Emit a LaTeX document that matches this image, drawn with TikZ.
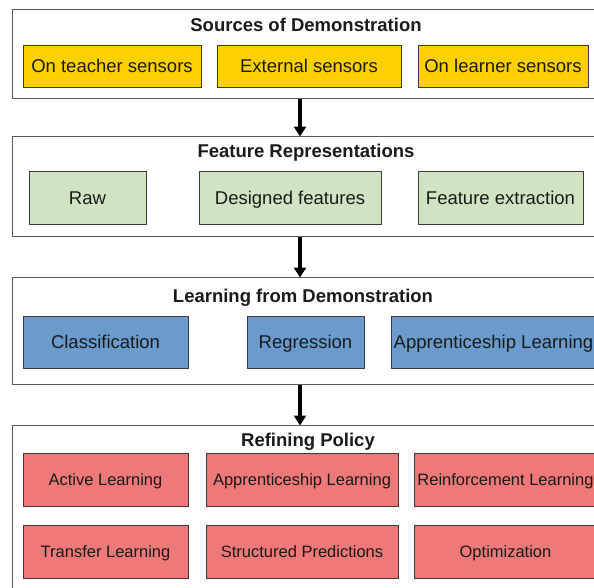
\documentclass[tikz,border=0pt]{standalone}
\usepackage{fontspec}
\setmainfont{Liberation Sans}
\usetikzlibrary{arrows.meta}
\definecolor{cyel}{HTML}{FDD100}
\definecolor{cgrn}{HTML}{D0E4C3}
\definecolor{cblu}{HTML}{6A9BCC}
\definecolor{cred}{HTML}{EF7879}
\definecolor{cline}{HTML}{3A3A3A}
\definecolor{ctxt}{HTML}{1A1A1A}
\tikzset{
  outerbox/.style={draw=cline!85, line width=1.3pt, fill=white, rectangle, anchor=north west, inner sep=0pt},
  inbox/.style={draw=cline, line width=0.9pt, rectangle, inner sep=0pt, text=ctxt,
     font=\fontsize{18.5}{22}\selectfont, text height=13.2pt, text depth=0pt},
  ybox/.style={inbox, fill=cyel},
  gbox/.style={inbox, fill=cgrn},
  bbox/.style={inbox, fill=cblu},
  rbox/.style={inbox, fill=cred, font=\fontsize{16.5}{20}\selectfont, text height=11.8pt},
  ttl/.style={anchor=base, font=\bfseries\fontsize{18.5}{22}\selectfont, text=ctxt, inner sep=0pt},
  flowarrow/.style={line width=4.5pt, -{Triangle[width=12pt,length=10pt]}, black}
}
\newcommand{\boxat}[6]{% style, name, x1, y1, x2, y2 ... text via next
  \node[#1, minimum width={#5-#3}, minimum height={#6-#4}] (#2) at ({(#3+#5)/2},{(#4+#6)/2})}
\begin{document}
\begin{tikzpicture}[x=1pt,y=-1pt]
\clip (0,0) rectangle (594,587);
\fill[white] (0,0) rectangle (594,587);
\coordinate (ax) at (300,0);
% outer boxes
\node[outerbox, minimum width=590pt, minimum height=89pt] (b1) at (12,9) {};
\node[outerbox, minimum width=590pt, minimum height=100pt] (b2) at (12,136) {};
\node[outerbox, minimum width=590pt, minimum height=107pt] (b3) at (12,277) {};
\node[outerbox, minimum width=590pt, minimum height=180pt] (b4) at (12,425) {};
% arrows
\draw[flowarrow] (b1.south -| ax) -- ([yshift=-0.5pt]b2.north -| ax);
\draw[flowarrow] (b2.south -| ax) -- ([yshift=-0.5pt]b3.north -| ax);
\draw[flowarrow] (b3.south -| ax) -- ([yshift=-0.5pt]b4.north -| ax);
% titles
\node[ttl] (t1) at (306,31.3) {Sources of Demonstration};
\node[ttl] (t2) at (306,157.3) {Feature Representations};
\node[ttl] (t3) at (303,302) {Learning from Demonstration};
\node[ttl] (t4) at (308,446.7) {Refining Policy};
% sources
\boxat{ybox}{s1}{23}{45}{201}{87} {On teacher sensors};
\boxat{ybox}{s2}{217}{45}{401}{87} {External sensors};
\boxat{ybox}{s3}{418}{45}{588}{87} {On learner sensors};
% features
\boxat{gbox}{f1}{29}{171}{146}{224} {Raw};
\boxat{gbox}{f2}{199}{171}{381}{224} {Designed features};
\boxat{gbox}{f3}{418}{171}{583}{224} {Feature extraction};
% learning
\boxat{bbox}{l1}{23}{316}{188}{368} {Classification};
\boxat{bbox}{l2}{247}{316}{364}{368} {Regression};
\boxat{bbox}{l3}{391}{316}{596}{368} {Apprenticeship Learning};
% refining
\boxat{rbox}{r1}{23}{453}{188}{506} {Active Learning};
\boxat{rbox}{r2}{206}{453}{398}{506} {Apprenticeship Learning};
\boxat{rbox}{r3}{414}{453}{597}{506} {Reinforcement Learning};
\boxat{rbox}{r4}{23}{525}{188}{578} {Transfer Learning};
\boxat{rbox}{r5}{206}{525}{398}{578} {Structured Predictions};
\boxat{rbox}{r6}{414}{525}{597}{578} {Optimization};
\end{tikzpicture}
\end{document}
